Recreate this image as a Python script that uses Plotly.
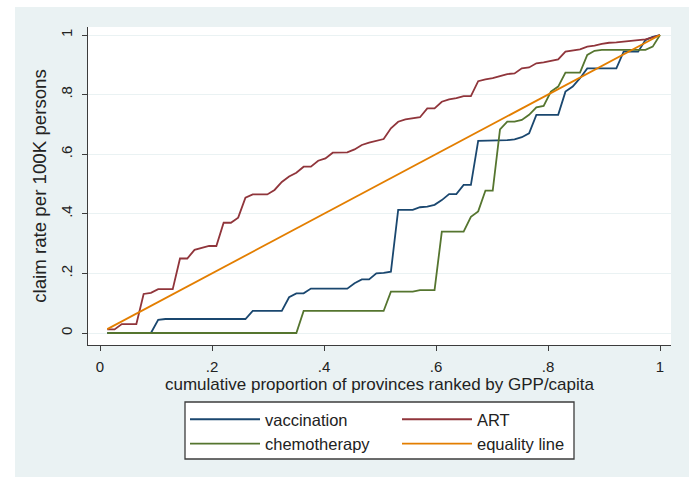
import plotly.graph_objects as go

# ---------------- data ----------------
N_PROVINCES = 77
province_rank = list(range(1, N_PROVINCES + 1))
cum_prop = [r / N_PROVINCES for r in province_rank]

vaccination = [
    0, 0, 0, 0, 0, 0, 0, 0.044, 0.047, 0.047,
    0.047, 0.047, 0.047, 0.047, 0.047, 0.047, 0.047, 0.047, 0.047, 0.047,
    0.074, 0.074, 0.074, 0.074, 0.074, 0.12, 0.133, 0.133, 0.149, 0.149,
    0.149, 0.149, 0.149, 0.149, 0.167, 0.18, 0.18, 0.2, 0.202, 0.206,
    0.413, 0.413, 0.413, 0.422, 0.424, 0.43, 0.446, 0.466, 0.466, 0.497,
    0.497, 0.645, 0.645, 0.645, 0.645, 0.647, 0.65, 0.657, 0.67, 0.732,
    0.732, 0.732, 0.732, 0.81, 0.827, 0.855, 0.888, 0.888, 0.888, 0.888,
    0.888, 0.944, 0.944, 0.944, 0.983, 0.994, 1.0,
]

art = [
    0.012, 0.012, 0.03, 0.03, 0.03, 0.131, 0.135, 0.147, 0.147, 0.147,
    0.25, 0.25, 0.279, 0.286, 0.292, 0.292, 0.37, 0.37, 0.387, 0.454,
    0.465, 0.465, 0.465, 0.48, 0.507, 0.525, 0.538, 0.558, 0.558, 0.578,
    0.586, 0.605, 0.606, 0.606, 0.616, 0.631, 0.639, 0.645, 0.651, 0.687,
    0.709, 0.717, 0.72, 0.724, 0.754, 0.754, 0.776, 0.784, 0.788, 0.795,
    0.795, 0.845, 0.851, 0.855, 0.862, 0.869, 0.871, 0.888, 0.891, 0.905,
    0.908, 0.913, 0.918, 0.944, 0.947, 0.952, 0.961, 0.964, 0.97, 0.974,
    0.975, 0.977, 0.98, 0.981, 0.985, 0.992, 1.0,
]

chemotherapy = [
    0, 0, 0, 0, 0, 0, 0, 0, 0, 0,
    0, 0, 0, 0, 0, 0, 0, 0, 0, 0,
    0, 0, 0, 0, 0, 0, 0, 0.074, 0.074, 0.074,
    0.074, 0.074, 0.074, 0.074, 0.074, 0.074, 0.074, 0.074, 0.074, 0.139,
    0.139, 0.139, 0.139, 0.144, 0.144, 0.144, 0.34, 0.34, 0.34, 0.34,
    0.39, 0.408, 0.478, 0.478, 0.683, 0.709, 0.709, 0.715, 0.732, 0.757,
    0.762, 0.81, 0.827, 0.874, 0.874, 0.874, 0.933, 0.947, 0.95, 0.95,
    0.95, 0.95, 0.95, 0.95, 0.95, 0.961, 1.0,
]

equality_x = [1 / N_PROVINCES, 1.0]
equality_y = [1 / N_PROVINCES, 1.0]

x_tickvals = [0, 0.2, 0.4, 0.6, 0.8, 1]
x_ticktext = ["0", ".2", ".4", ".6", ".8", "1"]
y_tickvals = [0, 0.2, 0.4, 0.6, 0.8, 1]
y_ticktext = ["0", ".2", ".4", ".6", ".8", "1"]

# ---------------- style ----------------
BG = "#eaf2f3"
AX = "#3c3c3c"
FONT = "Liberation Sans, Arial, sans-serif"
W, H = 693, 477
L, R, T, B = 88, 22, 27, 132
pw, ph = W - L - R, H - T - B


def px_x(p):
    return (p - L) / pw


def px_y(p):
    return (H - B - p) / ph


fig = go.Figure()
fig.add_trace(go.Scatter(x=cum_prop, y=vaccination, mode="lines", name="vaccination",
                         line=dict(color="#1a476f", width=1.8)))
fig.add_trace(go.Scatter(x=cum_prop, y=art, mode="lines", name="ART",
                         line=dict(color="#90353b", width=1.8)))
fig.add_trace(go.Scatter(x=cum_prop, y=chemotherapy, mode="lines", name="chemotherapy",
                         line=dict(color="#55752f", width=1.8)))
fig.add_trace(go.Scatter(x=equality_x, y=equality_y, mode="lines", name="equality line",
                         line=dict(color="#e37e00", width=1.8)))

shapes = [
    # white outer border strips around the bluish graph region
    dict(type="rect", xref="paper", yref="paper", layer="below",
         x0=px_x(0), x1=px_x(15), y0=px_y(H), y1=px_y(0),
         fillcolor="white", line=dict(width=0)),
    dict(type="rect", xref="paper", yref="paper", layer="below",
         x0=px_x(0), x1=px_x(W), y0=px_y(7), y1=px_y(0),
         fillcolor="white", line=dict(width=0)),
    dict(type="rect", xref="paper", yref="paper", layer="below",
         x0=px_x(689), x1=px_x(W), y0=px_y(H), y1=px_y(0),
         fillcolor="white", line=dict(width=0)),
    # legend frame
    dict(type="rect", xref="paper", yref="paper", layer="above",
         x0=px_x(185), x1=px_x(574), y0=px_y(459), y1=px_y(402),
         fillcolor="white", line=dict(width=1.3, color=AX)),
]

fig.update_layout(
    width=W, height=H,
    margin=dict(l=L, r=R, t=T, b=B, autoexpand=False),
    paper_bgcolor=BG, plot_bgcolor="white",
    font=dict(family=FONT, color="#222222", size=15),
    shapes=shapes,
    showlegend=True,
    legend=dict(
        orientation="h", x=px_x(185), xanchor="left", y=px_y(402), yanchor="top",
        bgcolor="rgba(0,0,0,0)", borderwidth=0,
        font=dict(size=16.5, color="#222222"),
        entrywidth=127, tracegroupgap=0, itemwidth=70,
    ),
    xaxis=dict(
        range=[-12 / 560, (671 - 100) / 560],
        tickvals=x_tickvals, ticktext=x_ticktext,
        showgrid=False, zeroline=False,
        showline=True, linecolor=AX, linewidth=1.3,
        ticks="outside", ticklen=5, tickcolor=AX, tickwidth=1.3,
        tickfont=dict(size=15), ticklabelstandoff=3,
        title=dict(text="cumulative proportion of provinces ranked by GPP/capita",
                   font=dict(size=17), standoff=0),
    ),
    yaxis=dict(
        range=[-(345 - 333) / 298, (333 - 27) / 298],
        tickvals=y_tickvals, ticktext=y_ticktext, tickangle=-90,
        showgrid=True, gridcolor=BG, gridwidth=1.3, zeroline=False,
        showline=True, linecolor=AX, linewidth=1.3,
        ticks="outside", ticklen=5, tickcolor=AX, tickwidth=1.3,
        tickfont=dict(size=15), ticklabelstandoff=4,
        title=dict(text="claim rate per 100K persons", font=dict(size=18.7), standoff=6),
    ),
)

fig.write_html("out.html", config={"displayModeBar": False},
               post_script="document.body.style.margin='0';")
